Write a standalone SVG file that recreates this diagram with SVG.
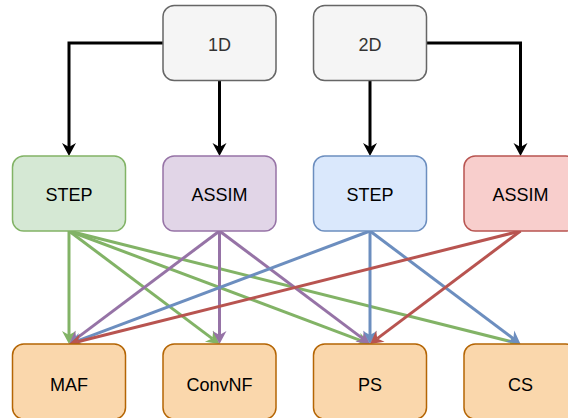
<svg xmlns="http://www.w3.org/2000/svg" width="568" height="418" viewBox="0 0 568 418">
  <style>
    .box { stroke-width: 1.5; }
    .lbl { font-family: "Liberation Sans", Arial, Helvetica, sans-serif; font-size: 18px; text-anchor: middle; fill: #000000; }
    .dim .lbl { fill: #333333; }
    .gray { fill: #f5f5f5; stroke: #666666; }
    .green { fill: #d5e8d4; stroke: #82b366; }
    .purple { fill: #e1d5e7; stroke: #9673a6; }
    .blue { fill: #dae8fc; stroke: #6c8ebf; }
    .red { fill: #f8cecc; stroke: #b85450; }
    .orange { fill: #fad7ac; stroke: #b46504; }
    .edge { fill: none; stroke-width: 3; stroke-linejoin: miter; }
    .e-black { stroke: #000000; marker-end: url(#arr-black); }
    .e-green { stroke: #82b366; marker-end: url(#arr-green); }
    .e-purple { stroke: #9673a6; marker-end: url(#arr-purple); }
    .e-blue { stroke: #6c8ebf; marker-end: url(#arr-blue); }
    .e-red { stroke: #b85450; marker-end: url(#arr-red); }
  </style>
  <defs>
    <!-- classic notched arrowhead; reference point sits at the notch -->
    <marker id="arr-black" markerUnits="userSpaceOnUse" markerWidth="16" markerHeight="16" viewBox="0 -8 14 16" refX="4" refY="0" orient="auto">
      <path d="M13,0 L0,-7 L4,0 L0,7 Z" fill="#000000"/>
    </marker>
    <marker id="arr-green" markerUnits="userSpaceOnUse" markerWidth="16" markerHeight="16" viewBox="0 -8 14 16" refX="4" refY="0" orient="auto">
      <path d="M13,0 L0,-7 L4,0 L0,7 Z" fill="#82b366"/>
    </marker>
    <marker id="arr-purple" markerUnits="userSpaceOnUse" markerWidth="16" markerHeight="16" viewBox="0 -8 14 16" refX="4" refY="0" orient="auto">
      <path d="M13,0 L0,-7 L4,0 L0,7 Z" fill="#9673a6"/>
    </marker>
    <marker id="arr-blue" markerUnits="userSpaceOnUse" markerWidth="16" markerHeight="16" viewBox="0 -8 14 16" refX="4" refY="0" orient="auto">
      <path d="M13,0 L0,-7 L4,0 L0,7 Z" fill="#6c8ebf"/>
    </marker>
    <marker id="arr-red" markerUnits="userSpaceOnUse" markerWidth="16" markerHeight="16" viewBox="0 -8 14 16" refX="4" refY="0" orient="auto">
      <path d="M13,0 L0,-7 L4,0 L0,7 Z" fill="#b85450"/>
    </marker>
  </defs>

  <!-- connectors -->
  <g id="connectors">
    <path class="edge e-black" d="M163,43 H69 V147"/>
    <path class="edge e-black" d="M219.5,80.5 V147"/>
    <path class="edge e-black" d="M370,80.5 V147"/>
    <path class="edge e-black" d="M426.5,43 H520.5 V147"/>

    <path class="edge e-green" d="M69,231 L69,335"/>
    <path class="edge e-green" d="M69,231 L212.3,338.6"/>
    <path class="edge e-green" d="M69,231 L361.57,340.84"/>
    <path class="edge e-green" d="M69,231 L511.77,341.81"/>

    <path class="edge e-purple" d="M219.5,231 L76.2,338.6"/>
    <path class="edge e-purple" d="M219.5,231 L219.5,335"/>
    <path class="edge e-purple" d="M219.5,231 L362.8,338.6"/>

    <path class="edge e-blue" d="M370,231 L77.43,340.84"/>
    <path class="edge e-blue" d="M370,231 L370,335"/>
    <path class="edge e-blue" d="M370,231 L513.3,338.6"/>

    <path class="edge e-red" d="M520.5,231 L77.73,341.81"/>
    <path class="edge e-red" d="M520.5,231 L377.2,338.6"/>
  </g>

  <!-- top row -->
  <g id="node-1d" class="dim">
    <rect class="box gray" x="163" y="5.5" width="113" height="75" rx="11.25"/>
    <text class="lbl" x="219.5" y="51">1D</text>
  </g>
  <g id="node-2d" class="dim">
    <rect class="box gray" x="313.5" y="5.5" width="113" height="75" rx="11.25"/>
    <text class="lbl" x="370" y="51">2D</text>
  </g>

  <!-- middle row -->
  <g id="node-step-1d">
    <rect class="box green" x="12.5" y="156" width="113" height="75" rx="11.25"/>
    <text class="lbl" x="69" y="201">STEP</text>
  </g>
  <g id="node-assim-1d">
    <rect class="box purple" x="163" y="156" width="113" height="75" rx="11.25"/>
    <text class="lbl" x="219.5" y="201">ASSIM</text>
  </g>
  <g id="node-step-2d">
    <rect class="box blue" x="313.5" y="156" width="113" height="75" rx="11.25"/>
    <text class="lbl" x="370" y="201">STEP</text>
  </g>
  <g id="node-assim-2d">
    <rect class="box red" x="464" y="156" width="113" height="75" rx="11.25"/>
    <text class="lbl" x="520.5" y="201">ASSIM</text>
  </g>

  <!-- bottom row -->
  <g id="node-maf">
    <rect class="box orange" x="12.5" y="344" width="113" height="75" rx="11.25"/>
    <text class="lbl" x="69" y="390.5">MAF</text>
  </g>
  <g id="node-convnf">
    <rect class="box orange" x="163" y="344" width="113" height="75" rx="11.25"/>
    <text class="lbl" x="219.5" y="390.5">ConvNF</text>
  </g>
  <g id="node-ps">
    <rect class="box orange" x="313.5" y="344" width="113" height="75" rx="11.25"/>
    <text class="lbl" x="370" y="390.5">PS</text>
  </g>
  <g id="node-cs">
    <rect class="box orange" x="464" y="344" width="113" height="75" rx="11.25"/>
    <text class="lbl" x="520.5" y="390.5">CS</text>
  </g>
</svg>
